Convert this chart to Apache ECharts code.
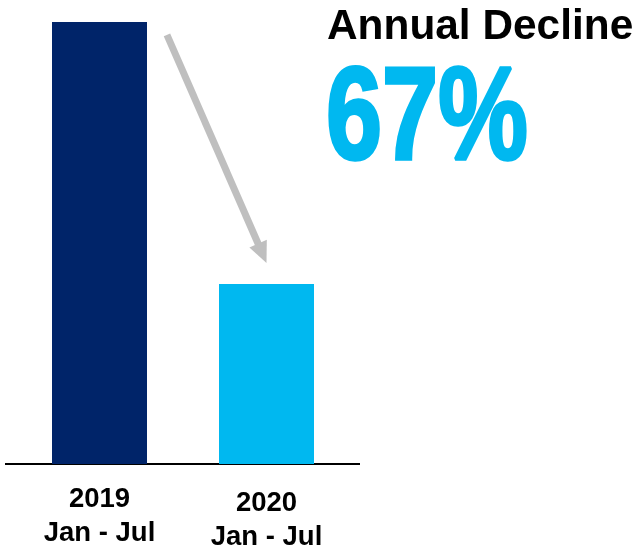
<!DOCTYPE html>
<html><head><meta charset="utf-8">
<script src="https://cdn.jsdelivr.net/npm/echarts@6/dist/echarts.min.js"></script>
<style>html,body{margin:0;padding:0;background:#fff}#c{width:635px;height:547px}</style>
</head><body><div id="c"></div>
<script>
const categories = ['2019\nJan - Jul', '2020\nJan - Jul'];
const values = [100, 40.7];
const barColors = ['#002469', '#00B8F0'];
const titleText = 'Annual Decline';
const declineText = '67%';

const chart = echarts.init(document.getElementById('c'));
chart.setOption({
  animation: false,
  grid: { left: 16, width: 334, top: 22, bottom: 83, outerBoundsMode: 'none', containLabel: false },
  xAxis: {
    type: 'category',
    data: categories.map((c, i) => i === 1 ? { value: c, textStyle: { padding: [4, 0, 0, 0] } } : c),
    axisLine: { show: false }, axisTick: { show: false },
    axisLabel: { fontFamily: 'Liberation Sans, Arial', fontWeight: 'bold', fontSize: 27.5, lineHeight: 34, color: '#000', margin: 18 }
  },
  yAxis: { type: 'value', min: 0, max: 100, show: false, splitLine: { show: false } },
  series: [{
    type: 'bar', barWidth: 95,
    data: values.map((v, i) => ({ value: v, itemStyle: { color: barColors[i] } }))
  }]
});

const p0 = chart.convertToPixel({ xAxisIndex: 0, yAxisIndex: 0 }, [0, 0]);
const p1 = chart.convertToPixel({ xAxisIndex: 0, yAxisIndex: 0 }, [1, 0]);
const yAt = v => chart.convertToPixel({ yAxisIndex: 0 }, v);
const sx = p0[0] + (p1[0] - p0[0]) * 0.404, sy = yAt(97.1);
const ex = p1[0], ey = yAt(45.5);
const dx = ex - sx, dy = ey - sy, L = Math.hypot(dx, dy), ux = dx / L, uy = dy / L;
const hl = 21, hw = 9.5;
const bx = ex - ux * hl, by = ey - uy * hl;
chart.setOption({
  graphic: [
    { type: 'line', shape: { x1: 5, y1: p0[1], x2: 360, y2: p0[1] }, style: { stroke: '#000', lineWidth: 2 } },
    { type: 'line', shape: { x1: sx, y1: sy, x2: bx + ux * 2, y2: by + uy * 2 }, style: { stroke: '#BFBFBF', lineWidth: 7 } },
    { type: 'polygon', shape: { points: [[ex, ey], [bx - uy * hw, by + ux * hw], [bx + uy * hw, by - ux * hw]] }, style: { fill: '#BFBFBF' } },
    { type: 'text', x: 327, y: 27, style: { text: titleText, font: 'bold 42.4px "Liberation Sans", Arial', fill: '#000', textVerticalAlign: 'middle' } },
    { type: 'text', x: 326, y: 123, scaleX: 0.77, style: { text: declineText, font: 'bold 131px "Liberation Sans", Arial', fill: '#00B8F0', textVerticalAlign: 'middle', stroke: '#00B8F0', lineWidth: 3.5 } }
  ]
});
</script></body></html>
